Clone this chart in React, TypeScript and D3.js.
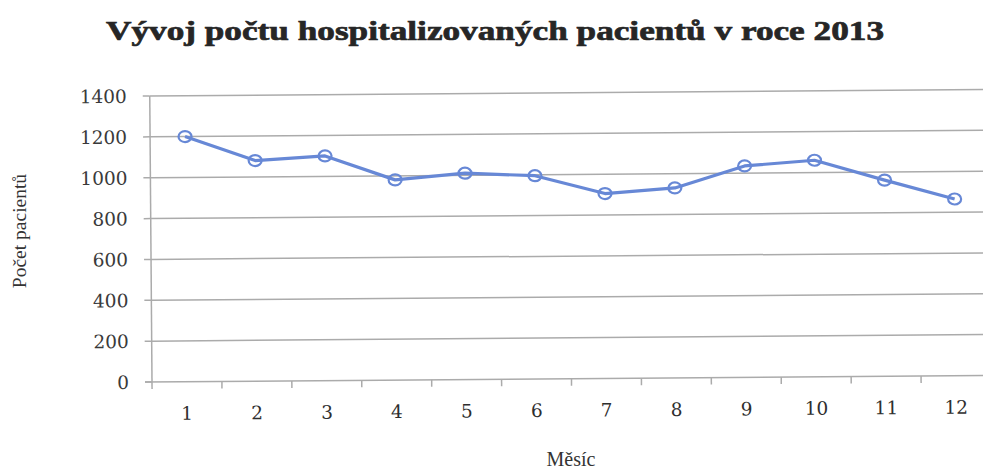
import React from 'react';
import * as d3 from 'd3';

const months = ['1', '2', '3', '4', '5', '6', '7', '8', '9', '10', '11', '12'];
const patients = [1200, 1080, 1100, 980, 1010, 995, 905, 930, 1035, 1060, 960, 865];
const yTicks = [0, 200, 400, 600, 800, 1000, 1200, 1400];

const title = 'Vývoj počtu hospitalizovaných pacientů v roce 2013';
const xTitle = 'Měsíc';
const yTitle = 'Počet pacientů';

const W = 983;
const H = 472;
const margin = { top: 96, right: -8, bottom: 90, left: 152 };
const serif = '"Liberation Serif", "Times New Roman", serif';
const tickFont = '"DejaVu Serif", serif';

export default function App() {
  const x = d3.scaleBand()
    .domain(months)
    .range([margin.left, W - margin.right]);
  const y = d3.scaleLinear()
    .domain([0, 1400])
    .range([H - margin.bottom, margin.top]);

  const line = d3.line<number>()
    .x((_, i) => x(months[i])! + x.bandwidth() / 2)
    .y(d => y(d));

  const x0 = margin.left;
  const y0 = y(0);

  return (
    <svg width={W} height={H} style={{ position: 'absolute', left: 0, top: 0, background: '#fff' }}>
      <text x={495} y={40} textAnchor="middle" fontFamily={serif} fontWeight="bold"
        fontSize={28} fill="#262626" stroke="#262626" strokeWidth={0.7}
        textLength={778} lengthAdjust="spacingAndGlyphs">
        {title}
      </text>

      <g transform={`rotate(-0.45, ${x0}, ${y0})`}>
        {/* gridlines */}
        {yTicks.filter(t => t > 0).map(t => (
          <line key={t} x1={x0} x2={W + 10} y1={y(t)} y2={y(t)} stroke="#ababab" strokeWidth={1.5} />
        ))}
        {/* y axis */}
        <line x1={x0} x2={x0} y1={y(1400)} y2={y0} stroke="#ababab" strokeWidth={1.5} />
        {yTicks.map(t => (
          <g key={t}>
            <line x1={x0 - 7} x2={x0} y1={y(t)} y2={y(t)} stroke="#ababab" strokeWidth={1.5} />
            <text x={129} y={y(t)} dy="0.36em" textAnchor="end" fontFamily={tickFont}
              fontSize={18.5} fill="#3a3a3a">{t}</text>
          </g>
        ))}
        {/* x axis */}
        <line x1={x0 - 7} x2={W + 10} y1={y0} y2={y0} stroke="#ababab" strokeWidth={1.5} />
        {months.map(m => (
          <g key={m}>
            <line x1={x(m)!} x2={x(m)!} y1={y0} y2={y0 + 7} stroke="#ababab" strokeWidth={1.5} />
            <text x={x(m)! + x.bandwidth() / 2} y={y0 + 38} textAnchor="middle" fontFamily={tickFont}
              fontSize={18.5} fill="#2e2e2e">{m}</text>
          </g>
        ))}
        {/* series */}
        <path d={line(patients)!} fill="none" stroke="#6788d6" strokeWidth={3.2} strokeLinejoin="round" />
        {patients.map((v, i) => (
          <ellipse key={i} cx={x(months[i])! + x.bandwidth() / 2} cy={y(v)} rx={6.5} ry={5.5}
            fill="none" stroke="#6788d6" strokeWidth={2.2} />
        ))}
      </g>

      <text x={571} y={466} textAnchor="middle" fontFamily={serif} fontSize={20} fill="#333">{xTitle}</text>
      <text transform="translate(26, 231) rotate(-90)" textAnchor="middle" fontFamily={serif}
        fontSize={19.5} fill="#333">{yTitle}</text>
    </svg>
  );
}
